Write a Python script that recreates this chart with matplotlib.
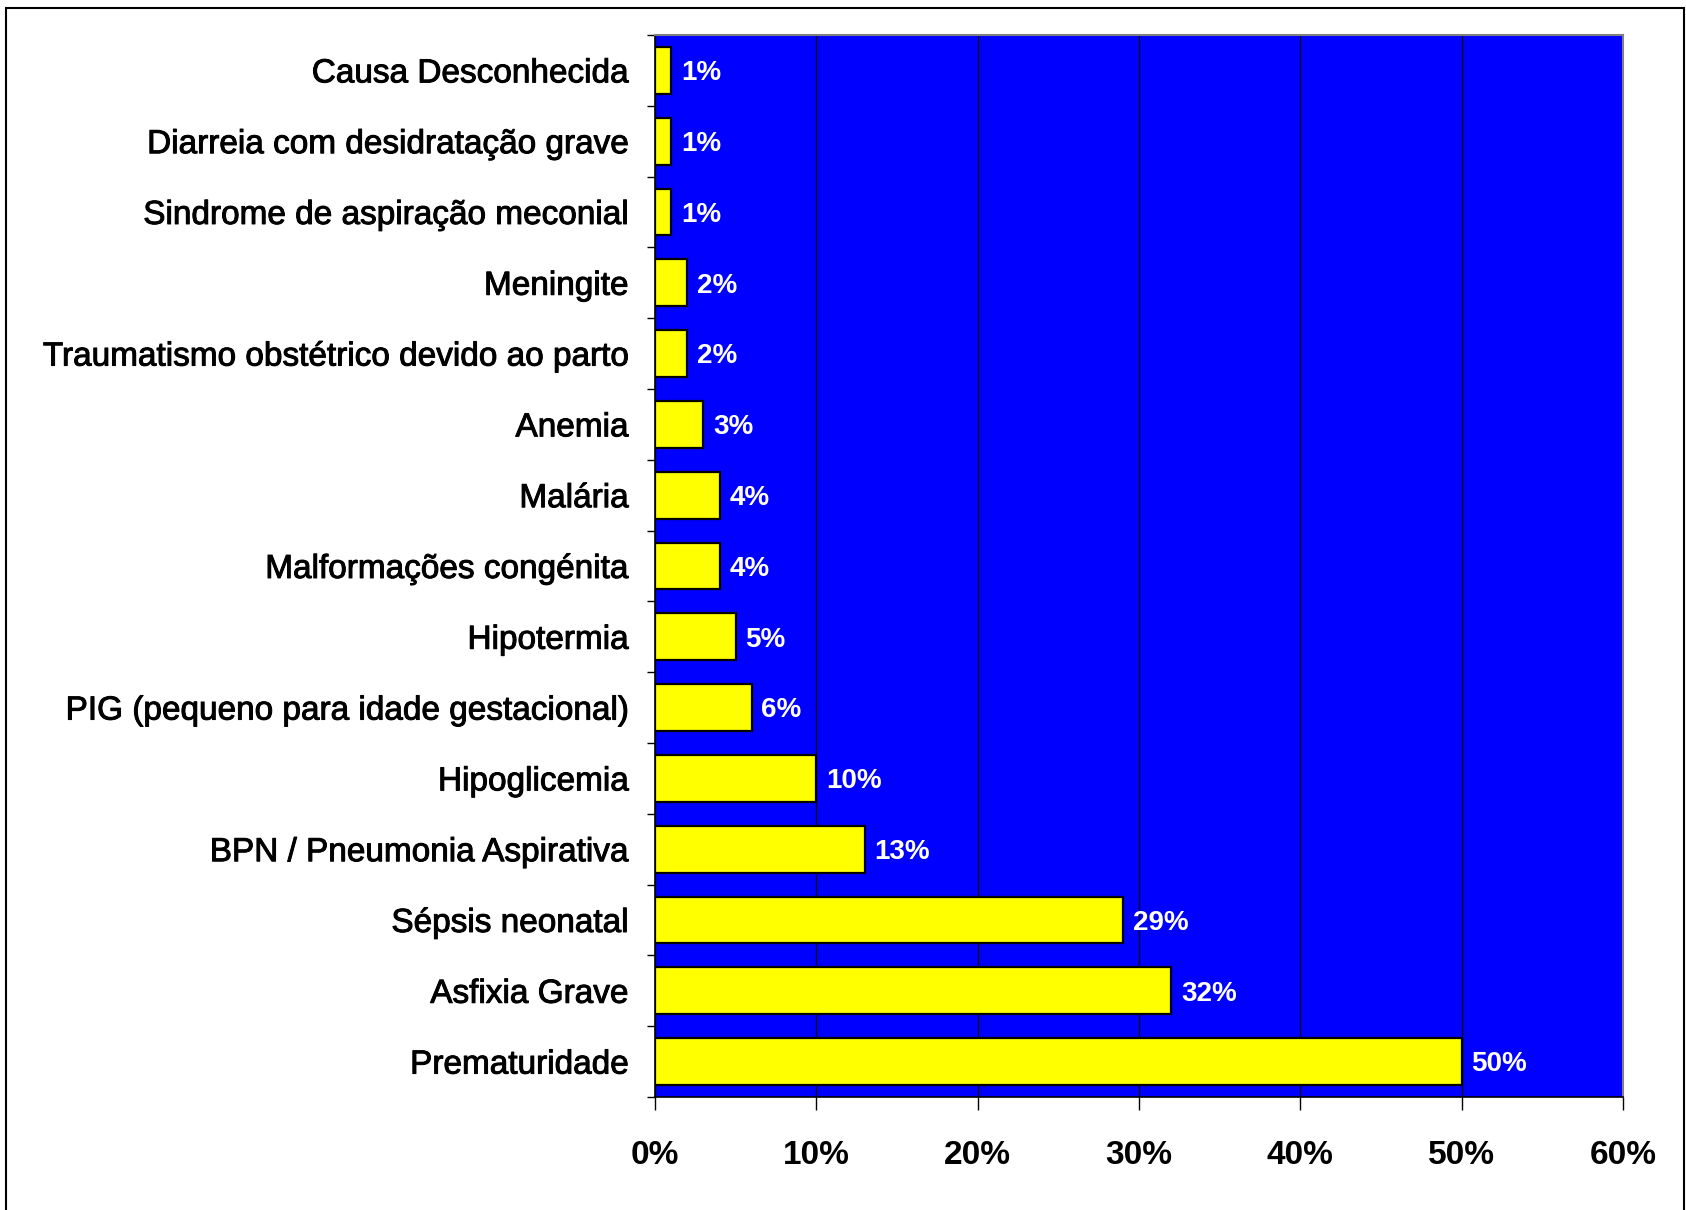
import matplotlib
matplotlib.use("Agg")
import matplotlib.pyplot as plt
import matplotlib.patheffects as pe
from matplotlib.patches import Rectangle
from matplotlib.ticker import FixedLocator, FuncFormatter

# --- Dados (de baixo para cima) ---
causas = [
    "Prematuridade",
    "Asfixia Grave",
    "Sépsis neonatal",
    "BPN / Pneumonia Aspirativa",
    "Hipoglicemia",
    "PIG (pequeno para idade gestacional)",
    "Hipotermia",
    "Malformações congénita",
    "Malária",
    "Anemia",
    "Traumatismo obstétrico devido ao parto",
    "Meningite",
    "Sindrome de aspiração meconial",
    "Diarreia com desidratação grave",
    "Causa Desconhecida",
]
percentagens = [50, 32, 29, 13, 10, 6, 5, 4, 4, 3, 2, 2, 1, 1, 1]
x_ticks = [0, 10, 20, 30, 40, 50, 60]

plt.rcParams['font.family'] = ['Liberation Sans', 'DejaVu Sans']

fig = plt.figure(figsize=(16.86, 12.10), dpi=100)
ax = fig.add_axes([0.3885, 0.0934, 0.9626 - 0.3885, 0.9711 - 0.0934])

# moldura exterior
fig.patches.append(Rectangle((6 / 1686, -0.05), (1684 - 6) / 1686, 1 + 0.05 - 8 / 1210,
                             transform=fig.transFigure, fill=False,
                             edgecolor='black', linewidth=1.5))

ax.set_facecolor('#0000FF')
pos = list(range(len(causas)))
ax.barh(pos, percentagens, height=0.66, color='#FFFF00', edgecolor='black',
        linewidth=1.6, zorder=3)

for y, v in zip(pos, percentagens):
    ax.text(v + 0.6, y - 0.04, f"{v}%", color='white', fontsize=20, fontweight='bold',
            va='center', ha='left', zorder=4)

ax.set_xlim(0, 60)
ax.set_ylim(-0.5, len(causas) - 0.5)
ax.xaxis.set_major_locator(FixedLocator(x_ticks))
ax.xaxis.set_major_formatter(FuncFormatter(lambda v, p: f"{v:.0f}%"))
ax.grid(axis='x', color='black', linewidth=0.9, zorder=1)
ax.set_axisbelow(True)

ax.set_yticks(pos)
ax.set_yticklabels(causas, fontsize=24)
for lbl in ax.get_yticklabels():
    lbl.set_path_effects([pe.withStroke(linewidth=0.7, foreground='black')])
ax.yaxis.set_minor_locator(FixedLocator([p - 0.5 for p in pos] + [len(causas) - 0.5]))
ax.tick_params(axis='y', which='major', length=0, pad=19)
ax.tick_params(axis='y', which='minor', length=6, width=1, direction='out')
ax.tick_params(axis='x', length=9, width=1, direction='out', pad=22, labelsize=24)
for lbl in ax.get_xticklabels():
    lbl.set_fontweight('bold')

for s in ['top', 'right']:
    ax.spines[s].set_color('#808080')
    ax.spines[s].set_linewidth(1.5)
for s in ['left', 'bottom']:
    ax.spines[s].set_color('black')
    ax.spines[s].set_linewidth(1.2)

fig.savefig("out.png", dpi=100)
